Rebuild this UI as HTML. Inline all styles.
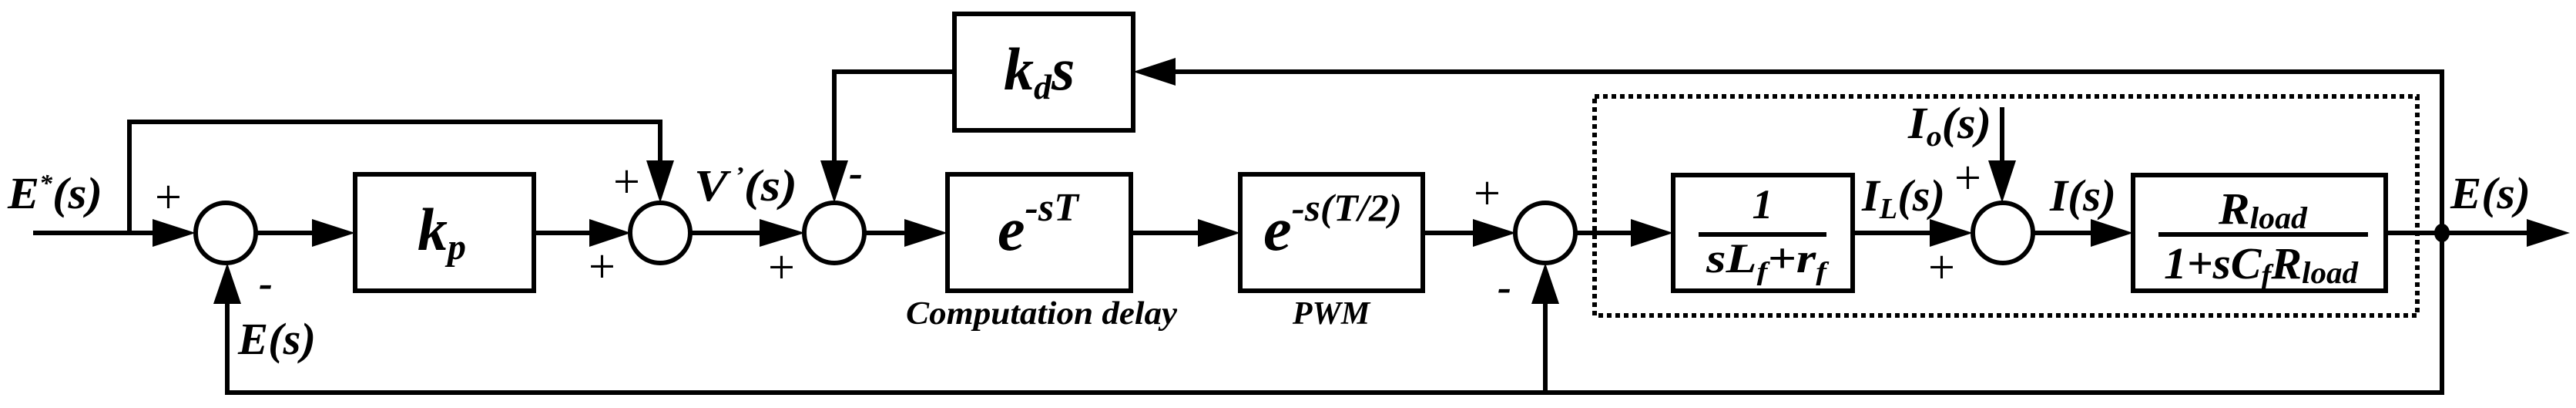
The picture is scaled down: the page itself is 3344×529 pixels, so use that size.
<!DOCTYPE html>
<html><head><meta charset="utf-8"><style>
html,body{margin:0;padding:0;background:#fff;}
svg{display:block;}
text{font-family:"Liberation Serif",serif;font-style:italic;font-weight:bold;fill:#000;}
.u{font-style:normal;font-weight:normal;}
</style></head><body>
<svg width="3344" height="529" viewBox="0 0 3344 529" xmlns="http://www.w3.org/2000/svg">
<g stroke="#000" stroke-width="6" fill="none" stroke-linecap="square">
<line x1="46" y1="302" x2="200" y2="302"/>
<line x1="333" y1="302" x2="410" y2="302"/>
<line x1="693" y1="302" x2="770" y2="302"/>
<line x1="897" y1="302" x2="990" y2="302"/>
<line x1="1123" y1="302" x2="1178" y2="302"/>
<line x1="1468" y1="302" x2="1558" y2="302"/>
<line x1="1847" y1="302" x2="1915" y2="302"/>
<line x1="2046" y1="302" x2="2120" y2="302"/>
<line x1="2405" y1="302" x2="2508" y2="302"/>
<line x1="2640" y1="302" x2="2716" y2="302"/>
<line x1="3097" y1="302" x2="3282" y2="302"/>
<polyline points="168,302 168,158 857,158 857,210"/>
<polyline points="1083,210 1083,93 1239,93"/>
<line x1="1525" y1="93" x2="3170" y2="93"/>
<line x1="3170" y1="93" x2="3170" y2="509"/>
<line x1="295" y1="509" x2="3170" y2="509"/>
<line x1="295" y1="509" x2="295" y2="392"/>
<line x1="2006" y1="509" x2="2006" y2="392"/>
<line x1="2599" y1="142" x2="2599" y2="210"/>
<circle cx="293" cy="302" r="39"/>
<circle cx="857" cy="302" r="39"/>
<circle cx="1083" cy="302" r="39"/>
<circle cx="2006" cy="302" r="39"/>
<circle cx="2600" cy="302" r="39"/>
<rect x="461" y="226" width="232" height="151"/>
<rect x="1239" y="18" width="232" height="151"/>
<rect x="1230" y="226" width="238" height="151"/>
<rect x="1610" y="226" width="237" height="151"/>
<rect x="2172" y="227" width="233" height="150"/>
<rect x="2769" y="227" width="328" height="150"/>
<line x1="2208" y1="304" x2="2368" y2="304"/>
<line x1="2805" y1="304" x2="3071" y2="304"/>
</g>
<rect x="2070" y="125" width="1068" height="284" fill="none" stroke="#000" stroke-width="6" stroke-dasharray="6 5"/>
<g fill="#000">
<polygon points="198,284 254,302 198,320"/>
<polygon points="405,284 461,302 405,320"/>
<polygon points="765,284 819,302 765,320"/>
<polygon points="986,284 1045,302 986,320"/>
<polygon points="1174,284 1230,302 1174,320"/>
<polygon points="1555,284 1610,302 1555,320"/>
<polygon points="1912,284 1968,302 1912,320"/>
<polygon points="2117,284 2172,302 2117,320"/>
<polygon points="2505,284 2561,302 2505,320"/>
<polygon points="2714,284 2769,302 2714,320"/>
<polygon points="3280,284 3336,302 3280,320"/>
<polygon points="839,208 857,263 875,208"/>
<polygon points="1065,208 1083,263 1101,208"/>
<polygon points="2581,208 2599,263 2617,208"/>
<polygon points="1526,75 1471,93 1526,111"/>
<polygon points="277,394 295,341 313,394"/>
<polygon points="1988,394 2006,341 2024,394"/>
<ellipse cx="3170" cy="302" rx="10" ry="12"/>
</g>
<text x="10" y="270" font-size="58" textLength="123" lengthAdjust="spacingAndGlyphs">E<tspan dy="-22" font-size="32">*</tspan><tspan dy="22">(s)</tspan></text>
<text x="309" y="459" font-size="58" textLength="101" lengthAdjust="spacingAndGlyphs">E(s)</text>
<text x="901" y="260" font-size="58" textLength="134" lengthAdjust="spacingAndGlyphs">V<tspan dy="-22" font-size="32"> ’</tspan><tspan dy="22">(s)</tspan></text>
<text x="3181" y="270" font-size="58" textLength="104" lengthAdjust="spacingAndGlyphs">E(s)</text>
<text x="2417" y="273" font-size="58" textLength="108" lengthAdjust="spacingAndGlyphs">I<tspan dy="10" font-size="38">L</tspan><tspan dy="-10">(s)</tspan></text>
<text x="2661" y="273" font-size="58" textLength="86" lengthAdjust="spacingAndGlyphs">I(s)</text>
<text x="2477" y="179" font-size="58" textLength="108" lengthAdjust="spacingAndGlyphs">I<tspan dy="10" font-size="38">o</tspan><tspan dy="-10">(s)</tspan></text>
<g class="u" font-size="62">
<text class="u" x="201" y="276">+</text>
<text class="u" x="796" y="256">+</text>
<text class="u" x="764" y="366">+</text>
<text class="u" x="997" y="367">+</text>
<text class="u" x="1913" y="271">+</text>
<text class="u" x="2537" y="251">+</text>
<text class="u" x="2503" y="367">+</text>
</g>
<text x="336" y="385" font-size="54">-</text>
<text x="1102" y="242" font-size="54">-</text>
<text x="1944" y="390" font-size="54">-</text>
<text x="542" y="324" font-size="78">k<tspan dy="12" font-size="48">p</tspan></text>
<text x="1303" y="116" font-size="78">k<tspan dy="12" font-size="46">d</tspan><tspan dy="-12">s</tspan></text>
<text x="1295" y="324" font-size="80">e<tspan dy="-38" font-size="52">-sT</tspan></text>
<text x="1640" y="324" font-size="80" textLength="180" lengthAdjust="spacingAndGlyphs">e<tspan dy="-38" font-size="50">-s(T/2)</tspan></text>
<text x="1352" y="420" font-size="42" text-anchor="middle" textLength="352" lengthAdjust="spacingAndGlyphs">Computation delay</text>
<text x="1728" y="420" font-size="42" text-anchor="middle">PWM</text>
<text x="2288" y="283" font-size="54" text-anchor="middle">1</text>
<text x="2215" y="353" font-size="54" textLength="156" lengthAdjust="spacingAndGlyphs">sL<tspan dy="10" font-size="34">f</tspan><tspan dy="-10">+r</tspan><tspan dy="10" font-size="34">f</tspan></text>
<text x="2880" y="290" font-size="58" textLength="115" lengthAdjust="spacingAndGlyphs">R<tspan dy="6" font-size="40">load</tspan></text>
<text x="2809" y="361" font-size="58" textLength="252" lengthAdjust="spacingAndGlyphs">1+sC<tspan dy="8" font-size="38">f</tspan><tspan dy="-8">R</tspan><tspan dy="6" font-size="40">load</tspan></text>
</svg>
</body></html>
